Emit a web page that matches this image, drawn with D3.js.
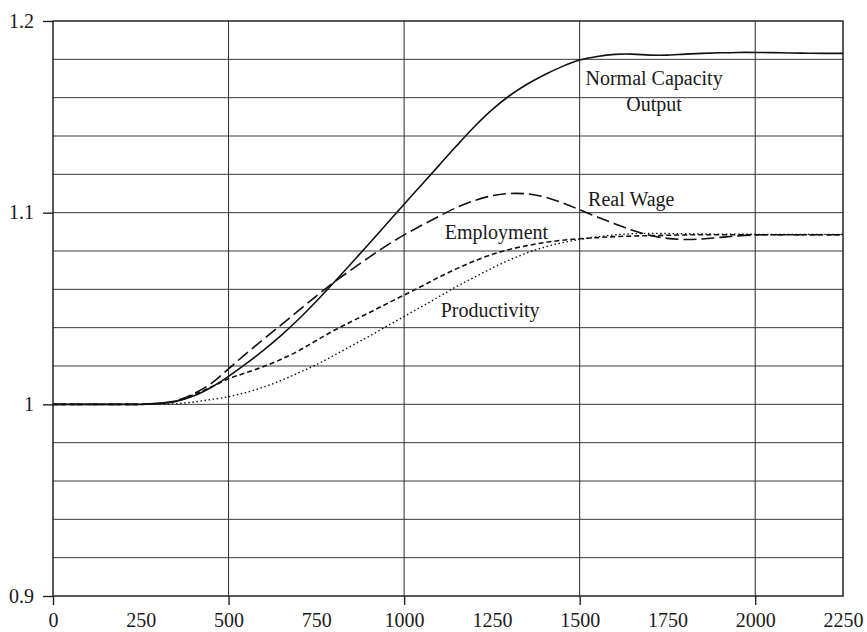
<!DOCTYPE html>
<html>
<head>
<meta charset="utf-8">
<script src="https://cdn.jsdelivr.net/npm/d3@7"></script>
<style>
  html, body { margin: 0; padding: 0; background: #fff; }
  svg { display: block; }
  text { font-family: "Liberation Serif", "Times New Roman", serif; fill: #1a1a1a; }
</style>
</head>
<body>
<svg id="chart" width="867" height="632"></svg>
<script>
// ---- data ----
const time = [0,50,100,150,200,250,300,350,400,450,500,550,600,650,700,750,800,850,900,950,
  1000,1050,1100,1150,1200,1250,1300,1350,1400,1450,1500,1550,1600,1650,1700,1750,1800,1850,
  1900,1950,2000,2050,2100,2150,2200,2250];

const normalCapacityOutput = [1,1,1,1,1,1,1.0005,1.0015,1.0043,1.0088,1.0146,1.0212,1.0283,1.036,1.0445,
  1.0538,1.0636,1.0736,1.0838,1.0941,1.1044,1.1146,1.1248,1.135,1.1448,1.1536,1.161,1.167,1.172,
  1.1762,1.1796,1.1815,1.1826,1.1827,1.1822,1.1822,1.1827,1.1831,1.1834,1.1836,1.1836,1.1835,1.1833,
  1.1832,1.1831,1.1831];

const realWage = [1,1,1,1,1,1,1.0005,1.0018,1.0055,1.0108,1.0185,1.0265,1.034,1.0415,1.049,1.0565,
  1.0637,1.0703,1.0767,1.0828,1.0884,1.0934,1.0982,1.1027,1.1063,1.1088,1.1100,1.1098,1.1082,1.1052,
  1.1015,1.0978,1.0942,1.0908,1.0882,1.0866,1.0860,1.0863,1.0871,1.0879,1.0884,1.0885,1.0885,
  1.0885,1.0885,1.0885];

const employment = [1,1,1,1,1,1,1.0005,1.0017,1.005,1.009,1.0133,1.0165,1.0197,1.0235,1.028,1.0333,
  1.0385,1.0432,1.0478,1.0524,1.057,1.0616,1.0664,1.0708,1.0748,1.0782,1.0808,1.0828,1.0844,1.0856,
  1.0864,1.0870,1.0875,1.0878,1.0880,1.0882,1.0884,1.0885,1.0885,1.0885,1.0885,1.0885,1.0885,
  1.0885,1.0885,1.0885];

const productivity = [1,1,1,1,1,1,1,1.0003,1.0012,1.0025,1.004,1.0062,1.009,1.0125,1.0165,1.0207,
  1.0255,1.0305,1.0355,1.0407,1.0458,1.051,1.0562,1.0615,1.0663,1.071,1.0753,1.079,1.082,1.0843,
  1.086,1.0874,1.0884,1.0890,1.0892,1.0891,1.0890,1.0889,1.0888,1.0888,1.0887,1.0887,1.0887,
  1.0887,1.0887,1.0887];

const xTickLabels = [0,250,500,750,1000,1250,1500,1750,2000,2250];
const xTickMarks = [0,500,1000,1500,2000];
const xGrid = [500,1000,1500,2000];
const yTickLabels = [0.9,1.0,1.1,1.2];
const yGrid = [0.92,0.94,0.96,0.98,1.0,1.02,1.04,1.06,1.08,1.10,1.12,1.14,1.16,1.18];

const seriesLabels = [
  {lines:["Normal Capacity","Output"], t:1712, v:1.1666},
  {lines:["Real Wage"], t:1647, v:1.1036},
  {lines:["Employment"], t:1263, v:1.0863},
  {lines:["Productivity"], t:1245, v:1.0457}
];

// ---- drawing ----
const svg = d3.select("#chart");
const margin = {left:53, top:21, right:24, bottom:36};
const W = 867 - margin.left - margin.right;   // 790
const H = 632 - margin.top - margin.bottom;   // 575

const x = d3.scaleLinear().domain([0,2250]).range([0,W]);
const y = d3.scaleLinear().domain([0.9,1.2]).range([H,0]);

const g = svg.append("g").attr("transform", `translate(${margin.left},${margin.top})`);

// grid
g.append("g").selectAll("line").data(yGrid).join("line")
  .attr("x1",0).attr("x2",W)
  .attr("y1",d=>y(d)).attr("y2",d=>y(d))
  .attr("stroke","#3a3a3a").attr("stroke-width",1);
g.append("g").selectAll("line").data(xGrid).join("line")
  .attr("y1",0).attr("y2",H)
  .attr("x1",d=>x(d)).attr("x2",d=>x(d))
  .attr("stroke","#2a2a2a").attr("stroke-width",1);

// axes
const xMarks = g.append("g").attr("transform",`translate(0,${H})`)
  .call(d3.axisBottom(x).tickValues(xTickMarks).tickSize(9).tickFormat(""));
const xLabels = g.append("g").attr("transform",`translate(0,${H})`)
  .call(d3.axisBottom(x).tickValues(xTickLabels).tickSize(0).tickPadding(17)
    .tickFormat(d=>String(d)));
const yAx = g.append("g")
  .call(d3.axisLeft(y).tickValues(yTickLabels).tickSize(10).tickPadding(9)
    .tickFormat(d=>String(+d.toFixed(1))));

[xMarks,xLabels,yAx].forEach(a=>{
  a.select(".domain").remove();
  a.selectAll(".tick line").attr("stroke","#222").attr("stroke-width",1.4);
  a.selectAll(".tick text").attr("font-size",20).attr("fill","#1a1a1a")
    .attr("font-family","'Liberation Serif', serif");
});
yAx.selectAll(".tick text").attr("dy","0.3em");

// frame
g.append("rect").attr("x",0).attr("y",0).attr("width",W).attr("height",H)
  .attr("fill","none").attr("stroke","#222").attr("stroke-width",1.5);

// lines
const line = d3.line().x((d,i)=>x(time[i])).y(d=>y(d)).curve(d3.curveCatmullRom.alpha(0.5));
const series = [
  {data:normalCapacityOutput, dash:null, w:1.6},
  {data:realWage, dash:"13,5", w:1.6},
  {data:employment, dash:"5,3", w:1.6},
  {data:productivity, dash:"1.5,2.6", w:1.4}
];
g.append("g").selectAll("path").data(series).join("path")
  .attr("d",d=>line(d.data))
  .attr("fill","none").attr("stroke","#111")
  .attr("stroke-width",d=>d.w)
  .attr("stroke-dasharray",d=>d.dash);

// labels
const lbl = g.append("g").selectAll("text").data(seriesLabels).join("text")
  .attr("x",d=>x(d.t)).attr("y",d=>y(d.v))
  .attr("font-size",20).attr("text-anchor","middle");
lbl.selectAll("tspan").data(d=>d.lines.map((s,i)=>({s,i,t:d.t}))).join("tspan")
  .attr("x",d=>x(d.t)).attr("dy",d=>d.i===0?0:25.7).text(d=>d.s);
</script>
</body>
</html>
